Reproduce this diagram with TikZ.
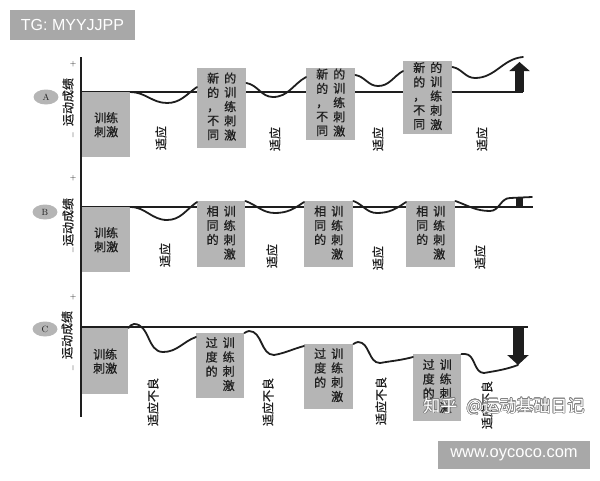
\documentclass[tikz,border=0pt]{standalone}
\usepackage{fontspec}
\setsansfont{Liberation Sans}
\newfontfamily\cjk[FakeBold=0.8]{Noto Sans CJK SC}
\newfontfamily\cjkmark{Noto Sans CJK SC}
\usepackage[copies]{contour}
\contourlength{0.6pt}
\usetikzlibrary{shapes.geometric,arrows.meta}
\definecolor{boxgray}{RGB}{181,181,181}
\definecolor{markgray}{RGB}{168,168,168}
\definecolor{ink}{RGB}{30,30,30}
\newcommand{\vcol}[1]{\begin{tabular}[t]{@{}c@{}}#1\end{tabular}}

\begin{document}
\begin{tikzpicture}[x=1pt,y=1pt]
    \useasboundingbox (0,0) rectangle (600,-480);
    % axis and base lines
    \draw[ink, line width=1.5pt] (81,-57) -- (81,-417);
    \draw[ink, line width=1.1pt] (81,-92) -- (523,-92);
    \draw[ink, line width=1.1pt] (81,-207) -- (533,-207);
    \draw[ink, line width=1.1pt] (81,-327) -- (528,-327);
    \begin{scope}
        \tikzstyle{every node}=[text=ink, rotate=90, inner sep=0, font=\cjk\fontsize{12}{13}\selectfont]
        \node (ya) at (68,-102) {运动成绩};
        \node (yb) at (68,-222) {运动成绩};
        \node (yc) at (67,-335) {运动成绩};
        \node[font=\fontsize{8}{8}\selectfont] (pa) at (73,-64) {+};
        \node[font=\fontsize{8}{8}\selectfont] (pb) at (73,-178) {+};
        \node[font=\fontsize{8}{8}\selectfont] (pc) at (73,-297) {+};
        \node[font=\fontsize{8}{8}\selectfont] (ma) at (73,-135) {$-$};
        \node[font=\fontsize{8}{8}\selectfont] (mb) at (73,-250) {$-$};
        \node[font=\fontsize{8}{8}\selectfont] (mc) at (73,-368) {$-$};
    \end{scope}
    \begin{scope}
        \tikzstyle{every node}=[ellipse, fill=boxgray, text=ink, minimum width=25pt, minimum height=15pt, inner sep=0, font=\fontsize{9}{9}\selectfont]
        \node (A) at (46,-97) {A};
        \node (B) at (45,-212) {B};
        \node (C) at (45,-329) {C};
    \end{scope}
    % stimulus boxes
    \begin{scope}
        \tikzstyle{every node}=[anchor=north west, fill=boxgray, text=ink, minimum width=48pt, minimum height=66pt, inner sep=0, align=center, font=\cjk\fontsize{12}{14}\selectfont]
        \node[minimum height=65pt] (A1) at (82,-92) {训练\\刺激};
        \node[minimum width=49pt, minimum height=80pt] (A2) at (197,-68) {\vcol{新\\的\\，\\不\\同}\hspace{5pt}\vcol{的\\训\\练\\刺\\激}};
        \node[minimum width=49pt, minimum height=72pt] (A3) at (306,-68) {\vcol{新\\的\\，\\不\\同}\hspace{5pt}\vcol{的\\训\\练\\刺\\激}};
        \node[minimum width=49pt, minimum height=73pt] (A4) at (403,-61) {\vcol{新\\的\\，\\不\\同}\hspace{5pt}\vcol{的\\训\\练\\刺\\激}};
        \node[minimum height=65pt] (B1) at (82,-207) {训练\\刺激};
        \node (B2) at (197,-201) {\vcol{相\\同\\的}\hspace{5pt}\vcol{训\\练\\刺\\激}};
        \node[minimum width=49pt] (B3) at (304,-201) {\vcol{相\\同\\的}\hspace{5pt}\vcol{训\\练\\刺\\激}};
        \node[minimum width=49pt] (B4) at (406,-201) {\vcol{相\\同\\的}\hspace{5pt}\vcol{训\\练\\刺\\激}};
        \node[minimum width=46pt] (C1) at (82,-328) {训练\\刺激};
        \node[minimum height=65pt] (C2) at (196,-333) {\vcol{过\\度\\的}\hspace{5pt}\vcol{训\\练\\刺\\激}};
        \node[minimum width=49pt, minimum height=65pt] (C3) at (304,-344) {\vcol{过\\度\\的}\hspace{5pt}\vcol{训\\练\\刺\\激}};
        \node[minimum height=67pt] (C4) at (413,-354) {\vcol{过\\度\\的}\hspace{5pt}\vcol{训\\练\\刺\\激}};
    \end{scope}
    % performance curves
    \begin{scope}
        \tikzstyle{every path}=[draw=ink, line width=1.8pt, line cap=round]
        \draw (A1.north east) to[out=0,in=180] (167,-103) to[out=0,in=215] ([yshift=-19pt]A2.north west);
        \draw ([yshift=-15pt]A2.north east) to[out=-10,in=180] (273,-97) to[out=0,in=210] ([yshift=-9pt]A3.north west);
        \draw ([yshift=-7pt]A3.north east) to[out=-10,in=180] (378,-86) to[out=0,in=210] ([yshift=-10pt]A4.north west);
        \draw ([yshift=-6pt]A4.north east) to[out=-10,in=180] (475,-78) to[out=0,in=185] (523,-57);
        \draw (B1.north east) to[out=0,in=180] (167,-220) to[out=0,in=215] ([yshift=-1pt]B2.north west);
        \draw (B2.north east) to[out=-20,in=180] (275,-213) to[out=0,in=215] ([yshift=-1pt]B3.north west);
        \draw (B3.north east) to[out=-20,in=180] (377,-213) to[out=0,in=215] ([yshift=-1pt]B4.north west);
        \draw (B4.north east) to[out=-20,in=180] (490,-211) to[out=0,in=180] (510,-198) -- (532,-197);
        \draw (C1.north east) to[out=45,in=180] (134,-324) to[out=0,in=180] (163,-352) to[out=0,in=200] ([yshift=-4pt]C2.north west);
        \draw (C2.north east) to[out=20,in=180] (249,-331) to[out=0,in=180] (274,-355) to[out=10,in=195] ([yshift=-2pt]C3.north west);
        \draw (C3.north east) to[out=20,in=180] (358,-342) to[out=0,in=180] (380,-363) to[out=10,in=195] ([yshift=-3pt]C4.north west);
        \draw (C4.north east) to[out=20,in=180] (465,-354) to[out=0,in=180] (484,-373) to[out=10,in=200] (518,-365);
    \end{scope}
    % change at the end
    \draw[ink, line width=9pt, -{Triangle[width=20pt,length=9pt]}] (519.5,-92) -- (519.5,-62);
    \fill[ink] (516,-197) rectangle (523,-206);
    \draw[ink, line width=11pt, -{Triangle[width=21pt,length=10pt]}] (518,-327) -- (518,-365);
    % reactions
    \begin{scope}
        \tikzstyle{every node}=[text=ink, rotate=90, inner sep=0, font=\cjk\fontsize{12}{13}\selectfont]
        \node (ra1) at (161,-138) {适应};
        \node (ra2) at (275,-139) {适应};
        \node (ra3) at (378,-139) {适应};
        \node (ra4) at (482,-139) {适应};
        \node (rb1) at (165,-255) {适应};
        \node (rb2) at (272,-256) {适应};
        \node (rb3) at (378,-258) {适应};
        \node (rb4) at (480,-257) {适应};
        \node (rc1) at (153,-402) {适应不良};
        \node (rc2) at (268,-402) {适应不良};
        \node (rc3) at (381,-401) {适应不良};
        \node (rc4) at (487,-405) {适应不良};
    \end{scope}
    % marks
    \node[fill=markgray, text=white, minimum width=125pt, minimum height=30pt, inner sep=0, font=\sffamily\fontsize{16}{16}\selectfont] (tg) at (72.5,-25) {TG: MYYJJPP};
    \node[fill=markgray, text=white, minimum width=152pt, minimum height=28pt, inner sep=0, font=\sffamily\fontsize{16.5}{16.5}\selectfont] (web) at (514,-455) {www.oycoco.com};
    \node[text=white, inner sep=0, font=\cjkmark\fontsize{17}{17}\selectfont] (zhihu) at (504,-407) {\contour{gray}{知乎\hspace{9pt}@运动基础日记}};
\end{tikzpicture}
\end{document}
